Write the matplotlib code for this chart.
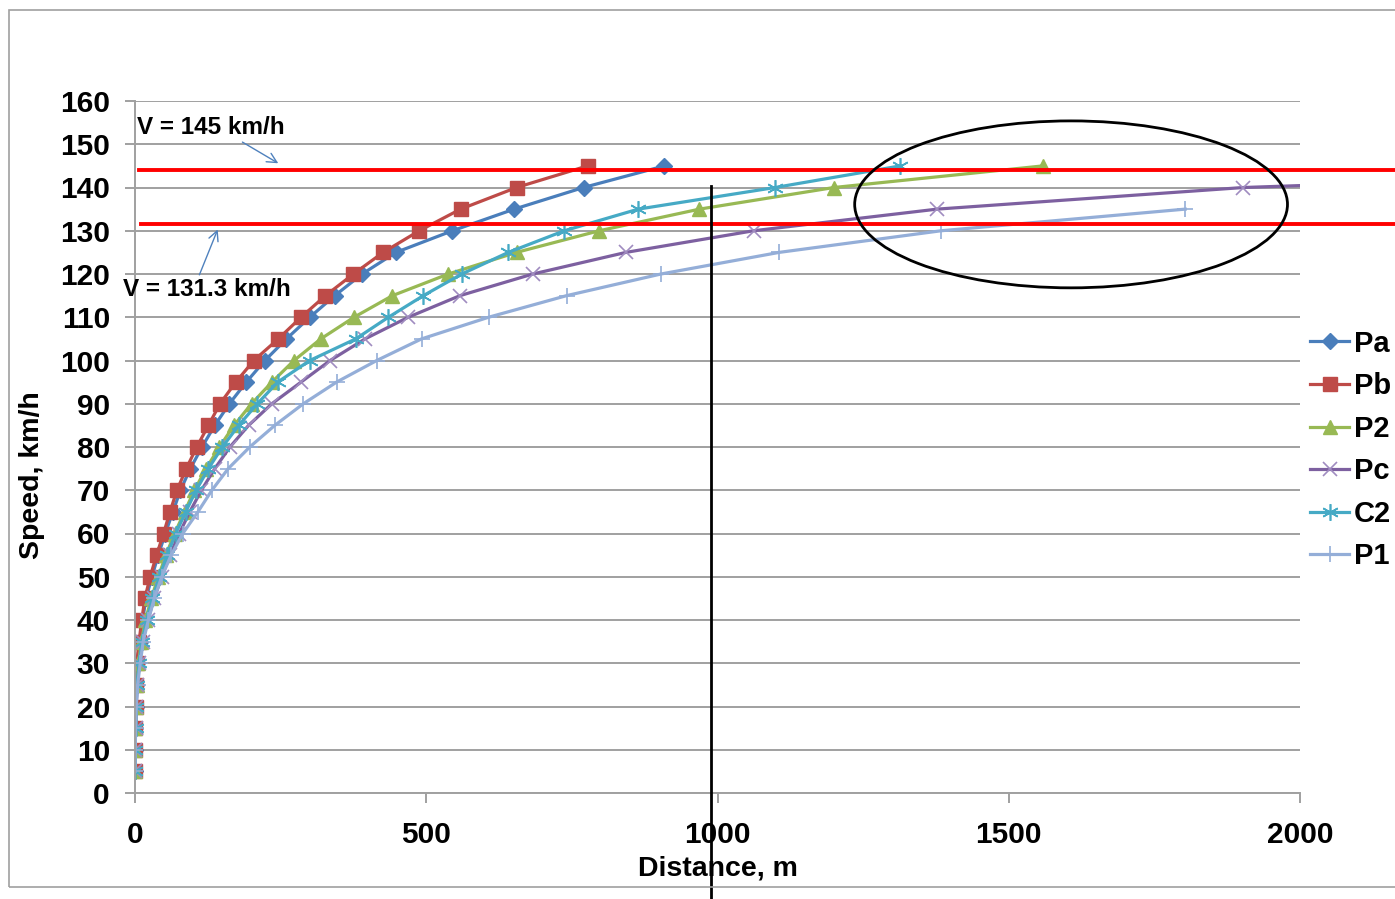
import numpy as np
import matplotlib.pyplot as plt
from matplotlib.patches import Ellipse, Rectangle

plt.rcParams['font.family'] = ['Liberation Sans', 'DejaVu Sans']

# speed steps (km/h) and distance (m) needed to reach each one
speed = [5, 10, 15, 20, 25, 30, 35, 40, 45, 50, 55, 60, 65, 70, 75,
         80, 85, 90, 95, 100, 105, 110, 115, 120, 125, 130, 135, 140, 145]

dist_pa = [0.1, 0.4, 0.8, 1.4, 2.3, 4, 8, 13, 19, 29, 40, 52, 65, 78, 95,
           115, 137, 162, 191, 223, 260, 300, 343, 390, 448, 545, 651, 770, 909]
dist_pb = [0.1, 0.3, 0.7, 1.2, 2, 3, 7, 11.5, 17, 26, 37, 49, 60, 72, 88,
           106, 126, 146, 173, 204, 246, 285, 327, 375, 426, 488, 559, 655, 777]
dist_p2 = [0.1, 0.4, 0.8, 1.6, 3, 6, 11, 18, 28, 40, 53, 68, 85, 102, 122,
           145, 170, 200, 235, 273, 319, 376, 442, 538, 655, 797, 969, 1200, 1559]
dist_pc = [0.1, 0.4, 1, 2, 4, 7.5, 13, 22, 33, 46, 60, 76, 94, 114, 137,
           163, 195, 235, 285, 335, 395, 469, 558, 683, 843, 1062, 1377, 1903, 3000]
dist_c2 = [0.1, 0.4, 0.9, 1.8, 3.5, 7, 12, 20, 30, 42, 55, 70, 87, 105, 126,
           150, 178, 210, 245, 300, 379, 435, 495, 561, 641, 737, 864, 1099, 1314]
dist_p1 = [0.1, 0.4, 1, 2.2, 4.5, 9, 14, 23, 33, 46, 62, 82, 108, 132, 160,
           197, 240, 289, 346, 415, 492, 607, 741, 903, 1106, 1384, 1803]

v_limit_hi = 144.0
v_limit_lo = 131.5
marked_dist = 989

series = [
    ('Pa', dist_pa, '#4A7EBB', dict(marker='D', markersize=8, markerfacecolor='#4A7EBB', markeredgecolor='#4A7EBB')),
    ('Pb', dist_pb, '#BE4B48', dict(marker='s', markersize=10, markerfacecolor='#BE4B48', markeredgecolor='#BE4B48')),
    ('P2', dist_p2, '#98B954', dict(marker='^', markersize=10, markerfacecolor='#98B954', markeredgecolor='#98B954')),
    ('Pc', dist_pc, '#7D60A0', dict(marker='x', markersize=10, markeredgecolor='#A08CC0', markeredgewidth=1.2)),
    ('C2', dist_c2, '#46AAC5', dict(marker=(6, 2, 0), markersize=12, markeredgecolor='#46AAC5', markeredgewidth=1.2)),
    ('P1', dist_p1, '#94AED8', dict(marker='+', markersize=12, markeredgecolor='#94AED8', markeredgewidth=1.2)),
]

fig = plt.figure(figsize=(13.95, 8.99), dpi=100)
ax = fig.add_axes([135 / 1395, 106 / 899, 1165 / 1395, 692 / 899])

for name, d, col, mk in series:
    ax.plot(d, speed[:len(d)], color=col, lw=2.3, label=name, **mk)

ax.set_xlim(0, 2000)
ax.set_ylim(0, 160)
ax.set_xticks(np.arange(0, 2001, 500))
ax.set_yticks(np.arange(0, 161, 10))
ax.yaxis.grid(True, color='#A0A0A0', lw=1.4)
ax.set_axisbelow(True)
for s in ['top', 'right']:
    ax.spines[s].set_visible(False)
for s in ['left', 'bottom']:
    ax.spines[s].set_color('#A0A0A0')
    ax.spines[s].set_linewidth(1.4)
ax.tick_params(axis='both', colors='#A0A0A0', labelcolor='black', width=1.4, length=7,
               labelsize=21.5)
ax.tick_params(axis='y', pad=11)
ax.tick_params(axis='x', pad=13)
for lab in ax.get_xticklabels() + ax.get_yticklabels():
    lab.set_fontweight('bold')

# speed limit lines
ax.plot([7, 2163], [v_limit_hi, v_limit_hi], color='#FF0000', lw=2.8, clip_on=False, zorder=5)
ax.plot([11, 2163], [v_limit_lo, v_limit_lo], color='#FF0000', lw=2.8, clip_on=False, zorder=5)

ax.annotate('V = 145 km/h', xy=(246, 145.6), xytext=(4, 153.8), fontsize=17.5,
            fontweight='bold', va='center', ha='left',
            arrowprops=dict(arrowstyle='->', color='#4F81BD', lw=1, shrinkA=0, shrinkB=0,
                            relpos=(0.68, 0.0)))
ax.annotate('V = 131.3 km/h', xy=(142, 130.3), xytext=(-21, 116.5), fontsize=17.5,
            fontweight='bold', va='center', ha='left',
            arrowprops=dict(arrowstyle='->', color='#4F81BD', lw=1, shrinkA=0, shrinkB=0,
                            relpos=(0.45, 1.0)))

# vertical marker and highlight ring
ax.plot([marked_dist, marked_dist], [140.4, -24.5], color='black', lw=2, clip_on=False, zorder=6)
ax.add_patch(Ellipse((1607, 136.1), 743, 38.6, fill=False, edgecolor='black', lw=2, zorder=6))

fig.text(718 / 1395, (899 - 868) / 899, 'Distance, m', fontsize=20.5, fontweight='bold',
         ha='center', va='center')
fig.text(32 / 1395, (899 - 475) / 899, 'Speed, km/h', fontsize=20.5, fontweight='bold',
         ha='center', va='center', rotation=90)

leg = fig.legend(loc='center left', bbox_to_anchor=(1310 / 1395, (899 - 450) / 899),
                 frameon=False, fontsize=21, handlelength=1.35, handletextpad=0.15,
                 labelspacing=0.5, borderpad=0, borderaxespad=0)
for t in leg.get_texts():
    t.set_fontweight('bold')

fig.add_artist(Rectangle((9 / 1395, 12 / 899), 1.0, 877 / 899, transform=fig.transFigure,
                         fill=False, edgecolor='#A0A0A0', lw=1.2))

fig.savefig('out.png', dpi=100)
